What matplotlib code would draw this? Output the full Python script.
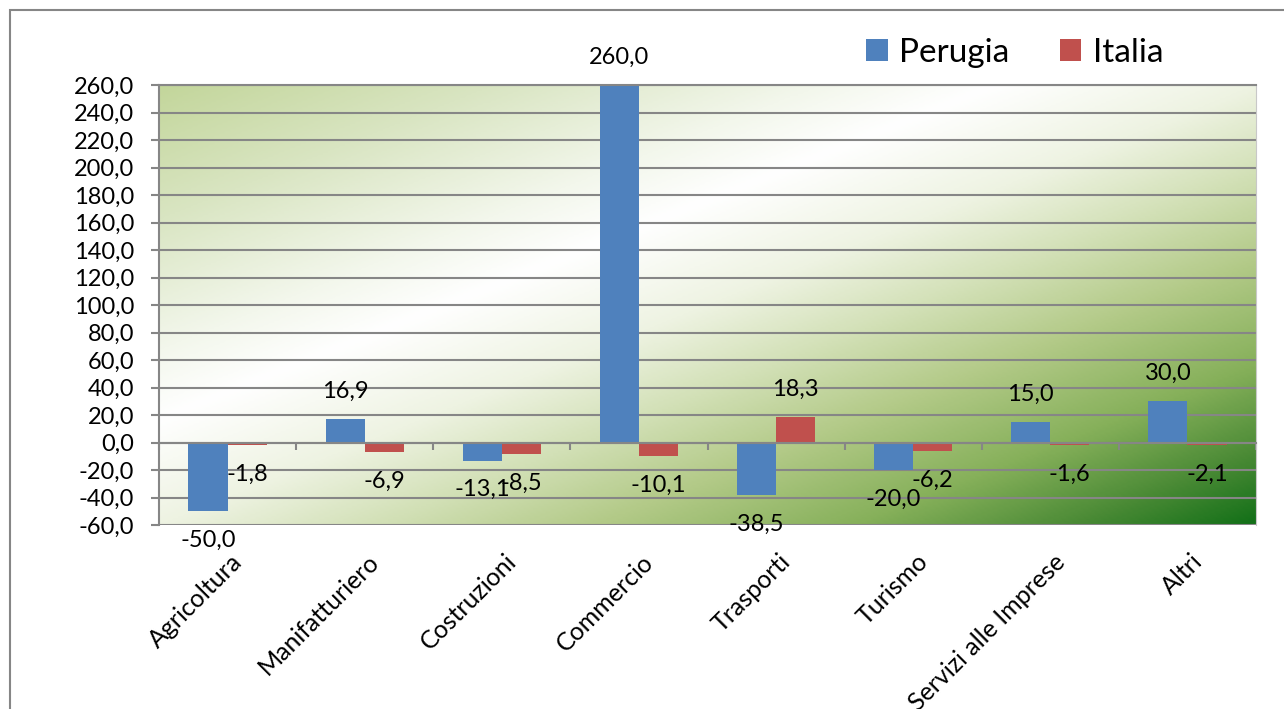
import numpy as np
import matplotlib.pyplot as plt
from matplotlib.colors import LinearSegmentedColormap
from matplotlib.patches import Rectangle

plt.rcParams['font.family'] = ['Lato', 'DejaVu Sans']

# data
categories = ['Agricoltura', 'Manifatturiero', 'Costruzioni', 'Commercio',
              'Trasporti', 'Turismo', 'Servizi alle Imprese', 'Altri']
perugia = [-50.0, 16.9, -13.1, 260.0, -38.5, -20.0, 15.0, 30.0]
italia = [-1.8, -6.9, -8.5, -10.1, 18.3, -6.2, -1.6, -2.1]
series_names = ['Perugia', 'Italia']
yticks = np.arange(-60, 261, 20)

blue = '#4f81bd'
red = '#c0504d'
grey = '#868686'


def fmt(v):
    return f"{v:.1f}".replace('.', ',')


W, H = 1284, 709
fig = plt.figure(figsize=(W / 100, H / 100), dpi=100)
ax = fig.add_axes([159 / W, 1 - 525 / H, (1256 - 159) / W, (525 - 85) / H])

# gradient fill of the plot area, diagonal scaled with the plot area
gx, gy = np.meshgrid(np.linspace(0, 1, 400), np.linspace(0, 1, 200))
t = (gx + gy) / 2
grad = LinearSegmentedColormap.from_list('bg', [
    (0.0, '#c3d69b'), (0.15, '#d9e5c2'), (0.3, '#f3f7ec'), (0.38, '#ffffff'),
    (0.5, '#eef3e2'), (0.6, '#d2e0b6'), (0.7, '#b3ca88'), (0.82, '#86b05a'),
    (0.92, '#4a8a35'), (1.0, '#137018')])
ax.imshow(grad(t), extent=[0, 1, 0, 1], transform=ax.transAxes,
          aspect='auto', zorder=0, interpolation='bilinear')

x = np.arange(len(categories))
w = 0.285
ax.bar(x - w / 2, perugia, w, color=blue, zorder=2, label=series_names[0])
ax.bar(x + w / 2, italia, w, color=red, zorder=2, label=series_names[1])

# data labels
for xs, vals in [(x - w / 2, perugia), (x + w / 2, italia)]:
    for xi, v in zip(xs, vals):
        off = 20 if v >= 0 else -21
        ax.annotate(fmt(v), xy=(xi, v), xytext=(0, off), textcoords='offset points',
                    ha='center', va='center', fontsize=17, zorder=4,
                    annotation_clip=False)

ax.set_xlim(-0.5, len(categories) - 0.5)
ax.set_ylim(yticks[0], yticks[-1])
ax.set_yticks(yticks)
ax.set_yticklabels([fmt(v) for v in yticks])
ax.yaxis.grid(True, color=grey, lw=1.5)
ax.set_axisbelow(True)
ax.tick_params(axis='y', direction='out', length=6, width=1.5, color=grey,
               pad=12, labelsize=17)

# category axis crossing at zero
ax.spines['bottom'].set_position(('data', 0))
ax.spines['bottom'].set_color(grey)
ax.spines['bottom'].set_linewidth(1.5)
ax.set_xticks(np.arange(len(categories) + 1) - 0.5)
ax.set_xticklabels([])
ax.tick_params(axis='x', direction='out', length=5, width=1.5, color=grey)
ax.spines['left'].set_color(grey)
ax.spines['left'].set_linewidth(1.5)
ax.spines['top'].set_color(grey)
ax.spines['top'].set_linewidth(1.5)
ax.spines['right'].set_color('#c8c8c8')

for xi, lab in zip(x, categories):
    ax.annotate(lab, xy=(xi, 0), xycoords=ax.get_xaxis_transform(),
                xytext=(2, -18), textcoords='offset points', rotation=45,
                ha='right', va='top', rotation_mode='anchor', fontsize=18)

ax.legend(loc='center left', bbox_to_anchor=(866 / W, 1 - 53 / H),
          bbox_transform=fig.transFigure, ncol=2, frameon=False, fontsize=24,
          handlelength=0.65, handleheight=0.65, handletextpad=0.35,
          columnspacing=1.5, borderpad=0, borderaxespad=0)

# outer chart border
fig.add_artist(Rectangle((10 / W, -0.1), 2, 1.1 - 10 / H, transform=fig.transFigure,
                         fill=False, edgecolor=grey, lw=1.5))

fig.savefig('out.png', dpi=100)
